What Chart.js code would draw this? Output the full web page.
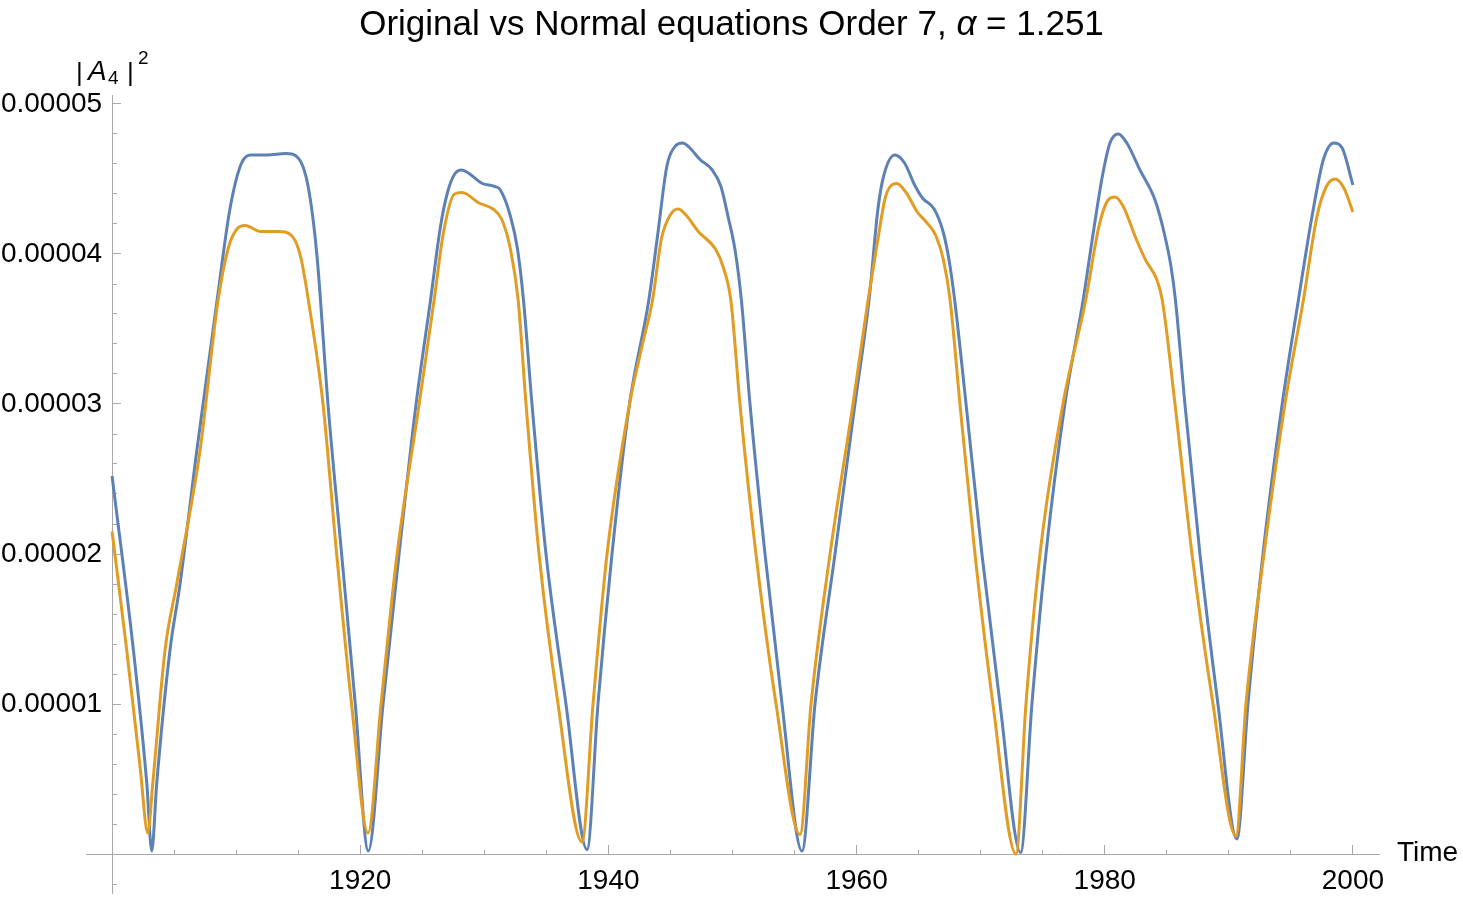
<!DOCTYPE html>
<html>
<head>
<meta charset="utf-8">
<script src="https://cdn.jsdelivr.net/npm/chart.js@4.4.1/dist/chart.umd.min.js"></script>
<style>
  html, body { margin:0; padding:0; background:#fff; }
  #wrap { width:1463px; height:900px; }
</style>
</head>
<body>
<div id="wrap"><canvas id="chart" width="1463" height="900"></canvas></div>
<script>
// values are in units of 1e-5
const blueYears = [1900.0, 1901.72, 1902.8, 1903.2, 1903.6, 1904.67, 1905.48, 1906.83, 1908.46, 1909.5, 1910.4, 1911.2, 1912.5, 1914.0, 1915.0, 1915.8, 1916.5, 1917.4, 1918.5, 1919.6, 1920.65,
  1921.84, 1923.13, 1924.5, 1925.66, 1926.46, 1927.03, 1927.59, 1928.15, 1929.85, 1930.84, 1931.27, 1932.11, 1932.68, 1933.16, 1933.84, 1934.97, 1936.58, 1938.28,
  1939.16, 1940.29, 1941.7, 1943.25, 1943.99, 1944.7, 1945.4, 1945.97, 1946.53, 1947.38, 1948.37, 1949.07, 1949.64, 1950.2, 1950.72, 1951.41, 1952.62, 1953.99, 1955.6,
  1956.65, 1958.26, 1959.87, 1961.0, 1961.72, 1962.18, 1963.08, 1963.84, 1964.74, 1965.34, 1966.25, 1967.0, 1967.45, 1967.91, 1968.82, 1970.1, 1971.56, 1973.22,
  1974.13, 1975.26, 1976.79, 1978.25, 1979.07, 1979.81, 1980.42, 1981.09, 1981.78, 1982.84, 1984.05, 1984.79, 1985.33, 1985.7, 1986.46, 1987.67, 1989.12, 1990.65,
  1991.54, 1992.75, 1994.3, 1995.6, 1996.7, 1997.62, 1998.45, 1999.11, 2000.0];
const blueValues = [2.52, 1.36, 0.47, 0.02, 0.47, 1.36, 1.80, 2.69, 3.69, 4.30, 4.60, 4.66, 4.66, 4.67, 4.64, 4.45, 4.00, 3.00, 2.00, 1.00, 0.02,
  1.00, 2.00, 3.00, 3.69, 4.18, 4.41, 4.53, 4.56, 4.47, 4.45, 4.43, 4.25, 4.03, 3.69, 3.00, 2.00, 1.00, 0.03,
  1.00, 2.00, 3.00, 3.69, 4.14, 4.58, 4.72, 4.74, 4.71, 4.63, 4.56, 4.45, 4.25, 4.03, 3.69, 3.00, 2.00, 1.00, 0.02,
  1.00, 2.00, 3.00, 3.69, 4.30, 4.52, 4.66, 4.61, 4.45, 4.37, 4.30, 4.14, 3.96, 3.69, 3.00, 2.00, 1.00, 0.01,
  1.00, 2.00, 3.00, 3.69, 4.14, 4.52, 4.74, 4.80, 4.74, 4.56, 4.36, 4.14, 3.92, 3.69, 3.00, 2.00, 1.00, 0.10,
  1.00, 2.00, 3.00, 3.69, 4.25, 4.63, 4.74, 4.71, 4.46];

const orangeYears = [1900.0, 1901.18, 1902.26, 1902.88, 1903.28, 1904.27, 1905.21, 1907.09, 1908.54, 1909.4, 1910.1, 1910.7, 1912.0, 1913.4, 1914.5, 1915.2, 1915.9, 1917.0, 1918.1, 1919.3, 1920.63,
  1921.68, 1922.97, 1924.75, 1925.95, 1926.7, 1927.59, 1928.2, 1929.57, 1930.7, 1931.41, 1932.11, 1932.73, 1933.36, 1934.41, 1935.94, 1937.87,
  1938.76, 1939.89, 1941.7, 1942.75, 1943.55, 1944.27, 1944.98, 1945.62, 1946.25, 1947.24, 1948.65, 1949.22, 1949.87, 1950.6, 1951.89, 1953.51, 1955.44,
  1956.33, 1957.86, 1959.71, 1960.92, 1961.72, 1962.33, 1963.23, 1963.99, 1964.89, 1965.65, 1966.4, 1967.0, 1967.54, 1968.33, 1969.54, 1970.99, 1972.84,
  1973.65, 1974.78, 1976.63, 1978.46, 1979.52, 1980.27, 1980.81, 1981.47, 1982.53, 1983.29, 1984.19, 1984.64, 1985.66, 1987.03, 1988.72, 1990.57,
  1991.38, 1992.83, 1994.52, 1996.0, 1997.1, 1997.86, 1998.57, 1999.27, 2000.0];
const orangeValues = [2.15, 1.36, 0.58, 0.14, 0.47, 1.36, 1.80, 2.69, 3.69, 4.05, 4.17, 4.19, 4.15, 4.15, 4.12, 3.98, 3.65, 3.00, 2.00, 1.00, 0.14,
  1.00, 2.00, 3.00, 3.69, 4.14, 4.40, 4.41, 4.34, 4.30, 4.23, 4.03, 3.69, 3.00, 2.00, 1.00, 0.08,
  1.00, 2.00, 3.00, 3.40, 3.69, 4.10, 4.26, 4.30, 4.26, 4.15, 4.03, 3.92, 3.69, 3.00, 2.00, 1.00, 0.13,
  1.00, 2.00, 3.00, 3.69, 4.10, 4.38, 4.47, 4.41, 4.28, 4.21, 4.12, 3.96, 3.69, 3.00, 2.00, 1.00, 0.00,
  1.00, 2.00, 3.00, 3.69, 4.18, 4.36, 4.38, 4.32, 4.10, 3.96, 3.83, 3.69, 3.00, 2.00, 1.00, 0.12,
  1.00, 2.00, 3.00, 3.69, 4.25, 4.45, 4.50, 4.44, 4.28];

const xMajorTicks = [1920, 1940, 1960, 1980, 2000];
const yMajorTicks = [0, 1, 2, 3, 4, 5];

const BLUE = '#5E81B5';
const ORANGE = '#E19C24';
const AXIS = '#a8a8a8';
const FONT = "'Liberation Sans', Arial, sans-serif";

const toPoints = (xs, ys) => xs.map((x, i) => ({ x: x, y: ys[i] }));
// positioned axes should not eat into the plot area
const noSize = s => {
  if (s.isHorizontal()) s.height = 0; else s.width = 0;
  s.paddingTop = s.paddingBottom = s.paddingLeft = s.paddingRight = 0;
};

const texts = {
  id: 'texts',
  afterDraw(chart) {
    const c = chart.ctx;
    c.save();
    c.fillStyle = '#000';
    c.textBaseline = 'alphabetic';
    // title
    const parts = [['Original vs Normal equations Order 7, ', ''], ['α', 'italic '], [' = 1.251', '']];
    let w = 0;
    parts.forEach(p => { c.font = p[1] + '35px ' + FONT; w += c.measureText(p[0]).width; });
    let x = 731.5 - w / 2;
    parts.forEach(p => { c.font = p[1] + '35px ' + FONT; c.fillText(p[0], x, 35); x += c.measureText(p[0]).width; });

    // y axis label |A4|^2
    c.font = '26px ' + FONT;
    c.fillText('|', 76, 81);
    c.font = 'italic 28px ' + FONT;
    c.fillText('A', 88, 80);
    c.font = '19px ' + FONT;
    c.fillText('4', 108, 84);
    c.font = '26px ' + FONT;
    c.fillText('|', 127, 81);
    c.font = '19px ' + FONT;
    c.fillText('2', 138, 64);

    // x axis label
    c.font = '28px ' + FONT;
    c.textBaseline = 'middle';
    c.fillText('Time', 1397, 853);
    c.restore();
  }
};

new Chart(document.getElementById('chart'), {
  type: 'line',
  data: {
    datasets: [
      { label: 'Original', data: toPoints(blueYears, blueValues), borderColor: BLUE, borderWidth: 3,
        pointRadius: 0, cubicInterpolationMode: 'monotone', order: 1, xAxisID: 'x', yAxisID: 'y' },
      { label: 'Normal', data: toPoints(orangeYears, orangeValues), borderColor: ORANGE, borderWidth: 3,
        pointRadius: 0, cubicInterpolationMode: 'monotone', order: 0, xAxisID: 'x', yAxisID: 'y' }
    ]
  },
  options: {
    responsive: false,
    animation: false,
    parsing: false,
    layout: { padding: { left: 86, right: 84, top: 95, bottom: 7 } },
    plugins: { legend: { display: false }, title: { display: false }, tooltip: { enabled: false } },
    scales: {
      x: {
        type: 'linear', position: { y: 0 }, min: 1897.9, max: 2002.1,
        afterFit: noSize,
        border: { display: true, color: AXIS, width: 1 },
        grid: { drawOnChartArea: false, tickLength: -5, tickColor: AXIS },
        ticks: { stepSize: 5, autoSkip: false, includeBounds: false, callback: () => '' }
      },
      xMajor: {
        type: 'linear', position: { y: 0 }, min: 1897.9, max: 2002.1,
        afterFit: noSize,
        afterBuildTicks: s => { s.ticks = xMajorTicks.map(v => ({ value: v })); },
        border: { display: false },
        grid: { drawOnChartArea: false, tickLength: -9, tickColor: AXIS },
        ticks: { autoSkip: false, maxRotation: 0, padding: 19, color: '#000',
          font: { family: FONT, size: 28 }, callback: v => String(v) }
      },
      y: {
        type: 'linear', position: { x: 1900 }, min: -0.26, max: 5.06,
        afterFit: noSize,
        border: { display: true, color: AXIS, width: 1 },
        grid: { drawOnChartArea: false, tickLength: -5, tickColor: AXIS },
        ticks: { stepSize: 0.2, autoSkip: false, includeBounds: false, callback: () => '' }
      },
      yMajor: {
        type: 'linear', position: { x: 1900 }, min: -0.26, max: 5.06,
        afterFit: noSize,
        afterBuildTicks: s => { s.ticks = yMajorTicks.map(v => ({ value: v })); },
        border: { display: false },
        grid: { drawOnChartArea: false, tickLength: -9, tickColor: AXIS },
        ticks: { autoSkip: false, callback: () => '' }
      },
      yLabels: {
        type: 'linear', position: { x: 1899.2 }, min: -0.26, max: 5.06,
        afterFit: noSize,
        afterBuildTicks: s => { s.ticks = yMajorTicks.filter(v => v > 0).map(v => ({ value: v })); },
        border: { display: false },
        grid: { display: false, drawTicks: false },
        ticks: { autoSkip: false, color: '#000', font: { family: FONT, size: 28 },
          callback: v => (v * 1e-5).toFixed(5) }
      }
    }
  },
  plugins: [texts]
});
</script>
</body>
</html>
